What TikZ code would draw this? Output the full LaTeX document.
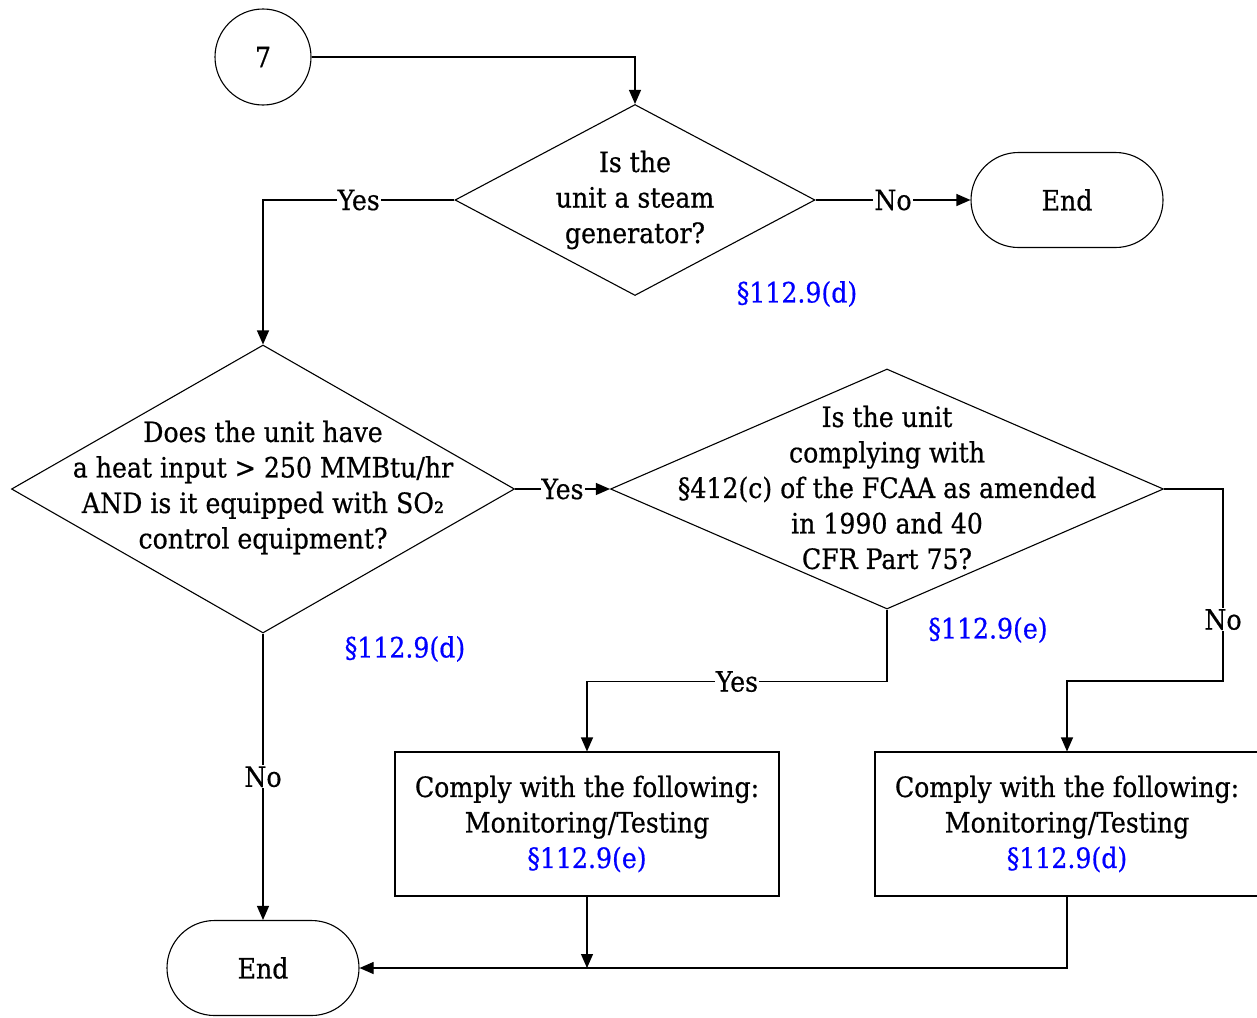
\documentclass[tikz,border=0pt]{standalone}
\usepackage{fontspec}
\setmainfont{DejaVu Serif Condensed}[FakeBold=0.6]
\usetikzlibrary{shapes.geometric,arrows.meta}
\begin{document}
\begin{tikzpicture}[x=1pt,y=-1pt,line width=1.1pt,font=\fontsize{28}{35.5}\selectfont,
  dia/.style={draw,diamond,inner sep=0pt},
  term/.style={draw,rectangle,rounded corners=47.5pt,minimum width=192pt,minimum height=95pt},
  stepbox/.style={draw,minimum width=384pt,minimum height=144pt,align=center},
  ref/.style={text=blue},
  lab/.style={fill=white,inner sep=1pt},
  >={Triangle[length=14pt,width=12pt]}]
\useasboundingbox (0,0) rectangle (1257,1017);
\node[draw,circle,minimum size=96pt,inner sep=0pt] (c7) at (263,57) {7};
\node[dia,minimum width=360pt,minimum height=191pt] (d1) at (635,200) {};
\node[align=center] at (d1) {Is the\\unit a steam\\generator?};
\node[term] (e1) at (1067,200) {End};
\node[ref] (r1) at (797,294) {§112.9(d)};
\node[dia,minimum width=503pt,minimum height=288pt] (d2) at (263,489) {};
\node[align=center] at (263,487.5) {Does the unit have\\a heat input > 250 MMBtu/hr\\AND is it equipped with SO₂\\control equipment?};
\node[ref] (r2) at (405,649) {§112.9(d)};
\node[dia,minimum width=553pt,minimum height=240pt] (d3) at (887,489) {};
\node[align=center] at (887,487.5) {Is the unit\\complying with\\§412(c) of the FCAA as amended\\in 1990 and 40\\CFR Part 75?};
\node[ref] (r3) at (988,630) {§112.9(e)};
\node[stepbox] (b1) at (587,824) {Comply with the following:\\Monitoring/Testing\\\textcolor{blue}{§112.9(e)}};
\node[stepbox] (b2) at (1067,824) {Comply with the following:\\Monitoring/Testing\\\textcolor{blue}{§112.9(d)}};
\node[term] (e2) at (263,968) {End};
\coordinate (k) at (1223,681);
% connectors
\draw[->] (c7.east) -| (d1.north);
\draw[->] (d1.west) -| node[pos=.25,lab]{Yes} (d2.north);
\draw[->] (d1.east) -- node[lab]{No} (e1.west);
\draw[->] (d2.east) -- node[lab]{Yes} (d3.west);
\draw[->] (d2.south) -- node[lab]{No} (e2.north);
\draw[->] (d3.south) -- ++(0,72) -| node[pos=.25,lab]{Yes} (b1.north);
\draw[->] (d3.east) -| node[pos=.84,lab]{No} (k) -| (b2.north);
\draw[->] (b1.south) -- (b1.south |- e2.east);
\draw[->] (b2.south) |- (e2.east);
\end{tikzpicture}
\end{document}
